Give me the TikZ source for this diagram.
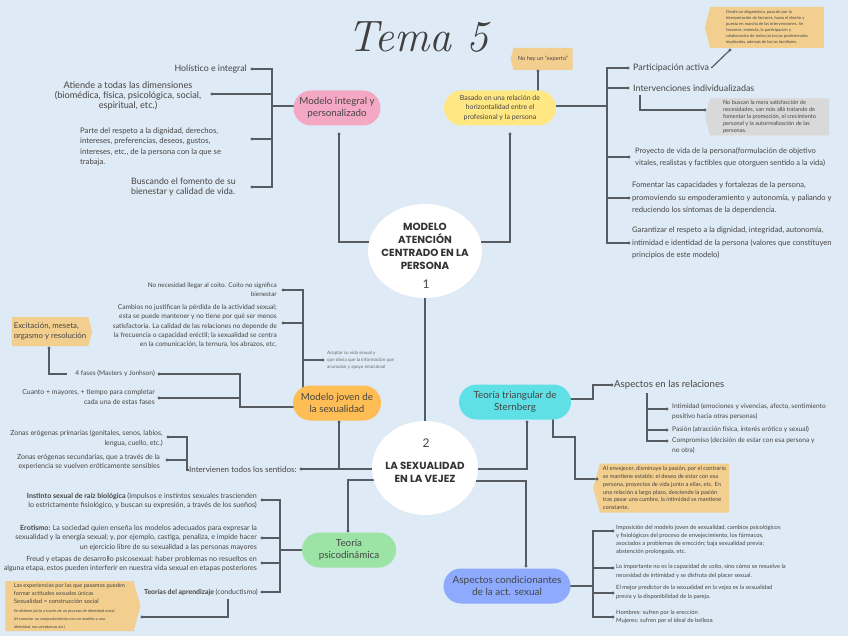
\documentclass[tikz,border=0pt]{standalone}
\usepackage{fontspec}
\setsansfont{Lato}
\newfontfamily\headfont{Poppins}
\usetikzlibrary{shapes.geometric,shapes.misc,shapes.symbols}
\definecolor{bgc}{HTML}{DEEAF5}
\definecolor{linec}{HTML}{575C63}
\definecolor{txtc}{HTML}{454545}
\definecolor{pinkc}{HTML}{F5A8C4}
\definecolor{yellowc}{HTML}{FFE784}
\definecolor{orangec}{HTML}{FFBD55}
\definecolor{cyanc}{HTML}{5FE0E6}
\definecolor{greenc}{HTML}{9BE4A5}
\definecolor{bluec}{HTML}{8DAAFF}
\definecolor{sandc}{HTML}{F3CF8F}
\definecolor{greyc}{HTML}{D9D9D9}
\pgfdeclarelayer{bglayer}
\pgfdeclarelayer{linelayer}
\pgfsetlayers{bglayer,linelayer,main}
\newcommand{\txf}[2]{\sffamily\fontsize{#1}{#2}\selectfont}
\begin{document}
\begin{tikzpicture}[x=1pt,y=-1pt,
  con/.style={draw=linec,line width=1.2pt},
  txt/.style={inner sep=0pt,text=txtc},
  pill/.style={rounded rectangle,inner sep=1pt,text=txtc,font=\txf{9.8}{12},align=center},
  cell/.style={ellipse,fill=white,inner sep=0pt},
  heading/.style={inner sep=0pt,text=black!80,font=\headfont\bfseries\fontsize{10.3}{13}\selectfont,align=center},
  noteL/.style={signal,signal to=west,signal from=nowhere,signal pointer angle=150,inner sep=2pt,text=txtc,align=left},
  noteR/.style={signal,signal to=east,signal from=nowhere,signal pointer angle=150,inner sep=2pt,text=txtc,align=left},
]
\path[use as bounding box] (0,0) rectangle (848,636);
\begin{pgfonlayer}{bglayer}
\fill[bgc] (0,0) rectangle (848,636);
\end{pgfonlayer}

% ---------- title ----------
\node[anchor=base,inner sep=0pt,font=\rmfamily\itshape\fontsize{44}{44}\selectfont,text=black!75] (title) at (418,52) {Tema 5};

% ---------- central ellipses ----------
\node[cell,minimum width=114,minimum height=94] (e1) at (425,251) {};
\node[heading] (e1t) at (425,246) {MODELO\\ATENCIÓN\\CENTRADO EN LA\\PERSONA};
\node[txt,font=\txf{12}{12}] (e1n) at (426,284) {1};
\node[cell,minimum width=106,minimum height=94] (e2) at (425,468) {};
\node[txt,font=\txf{12}{12}] (e2n) at (426,443) {2};
\node[heading] (e2t) at (425,472) {LA SEXUALIDAD\\EN LA VEJEZ};

% ---------- pills ----------
\node[pill,fill=pinkc,minimum width=89,minimum height=35] (mi) at (337,108) {Modelo integral y\\personalizado};
\node[pill,fill=yellowc,minimum width=114,minimum height=35,font=\txf{7}{9.5}] (ba) at (500,108) {Basado en una relación de\\horizontalidad entre el\\profesional y la persona};
\node[pill,fill=orangec,minimum width=90,minimum height=35] (mj) at (337,403) {Modelo joven de\\la sexualidad};
\node[pill,fill=cyanc,minimum width=114,minimum height=35] (st) at (515,402) {Teoría triangular de\\Sternberg};
\node[pill,fill=greenc,minimum width=96,minimum height=35] (tp) at (349,550) {Teoría\\psicodinámica};
\node[pill,fill=bluec,minimum width=129,minimum height=35,font=\txf{10}{12.5}] (ac) at (507,586) {Aspectos condicionantes\\de la act. sexual};

% ---------- top left texts ----------
\node[txt,anchor=east,font=\txf{8.8}{10}] (hol) at (247,69) {Holístico e integral};
\node[txt,align=center,font=\txf{9.2}{10}] (ati) at (128,96) {Atiende a todas las dimensiones\\(biomédica, física, psicológica, social,\\espiritual, etc.)};
\node[txt,anchor=west,align=left,font=\txf{7.7}{10.3}] (par) at (80,147) {Parte del respeto a la dignidad, derechos,\\intereses, preferencias, deseos, gustos,\\intereses, etc., de la persona con la que se\\trabaja.};
\node[txt,anchor=west,align=left,font=\txf{8.8}{10.3}] (bus) at (131,187) {Buscando el fomento de su\\bienestar y calidad de vida.};

% ---------- top right texts ----------
\node[txt,anchor=west,font=\txf{8.9}{10}] (pa) at (633,68) {Participación activa};
\node[txt,anchor=west,font=\txf{8.9}{10}] (ii) at (633,88) {Intervenciones individualizadas};
\node[txt,anchor=west,align=left,font=\txf{7.5}{12.3}] (pv) at (635,157) {Proyecto de vida de la persona(formulación de objetivo\\vitales, realistas y factibles que otorguen sentido a la vida)};
\node[txt,anchor=west,align=left,font=\txf{7.6}{12.6}] (fo) at (632,198) {Fomentar las capacidades y fortalezas de la persona,\\promoviendo su empoderamiento y autonomía, y paliando y\\reduciendo los síntomas de la dependencia.};
\node[txt,anchor=west,align=left,font=\txf{7.6}{12.6}] (ga) at (632,243) {Garantizar el respeto a la dignidad, integridad, autonomía,\\intimidad e identidad de la persona (valores que constituyen\\principios de este modelo)};

% ---------- notes top ----------
\node[noteL,fill=sandc,minimum width=62,minimum height=22,font=\txf{5.7}{7}] (ne) at (543,59) {No hay un ``experto''};
\node[noteL,fill=sandc,minimum width=119,minimum height=41,font=\txf{4.1}{6}] (nt) at (767,27.5) {Desde un diagnóstico, pasa de por la\\interpretación de factores, hasta el diseño y\\puesta en marcha de las intervenciones. Se\\favorece, estimula, la participación y\\colaboración de todos/as los/as profesionales\\implicados, además de los/as familiares.};
\node[noteL,fill=greyc,minimum width=124,minimum height=37,font=\txf{5.6}{6.9}] (ng) at (769.5,117) {No buscan la mera satisfacción de\\necesidades, van más allá tratando de\\fomentar la promoción, el crecimiento\\personal y la autorrealización de las\\personas.};

% ---------- left middle texts ----------
\node[txt,anchor=east,align=right,font=\txf{6.4}{9}] (nec) at (277,290) {No necesidad llegar al coito. Coito no significa\\bienestar};
\node[txt,anchor=east,align=right,font=\txf{6.7}{9.2}] (cam) at (277,326) {Cambios no justifican la pérdida de la actividad sexual;\\esta se puede mantener y no tiene por qué ser menos\\satisfactoria. La calidad de las relaciones no depende de\\la frecuencia o capacidad eréctil; la sexualidad se centra\\en la comunicación, la ternura, los abrazos, etc.};
\node[txt,anchor=west,align=left,font=\txf{4.6}{7},text=txtc!80] (tiny) at (327,360) {Aceptar su vida sexual y\\que obvia que la información que\\acumulan y apoyo emocional};
\node[noteR,fill=sandc,minimum width=80,minimum height=29,font=\txf{7.8}{10.5}] (ex) at (50,331.5) {Excitación, meseta,\\orgasmo y resolución};
\node[txt,anchor=east,font=\txf{6.6}{9}] (fases) at (155,374) {4 fases (Masters y Jonhson)};
\node[txt,anchor=east,align=right,font=\txf{6.9}{9.2}] (cua) at (155,397) {Cuanto + mayores, + tiempo para completar\\cada una de estas fases};
\node[txt,anchor=east,align=right,font=\txf{7}{9.2}] (zp) at (163,438.5) {Zonas erógenas primarias (genitales, senos, labios,\\lengua, cuello, etc.)};
\node[txt,anchor=east,align=right,font=\txf{7}{9.5}] (zs) at (160,462) {Zonas erógenas secundarias, que a través de la\\experiencia se vuelven eróticamente sensibles};
\node[txt,anchor=west,font=\txf{8}{9}] (int) at (189,470) {Intervienen todos los sentidos:};

% ---------- Sternberg ----------
\node[txt,anchor=west,font=\txf{9.6}{11}] (ar) at (614,385) {Aspectos en las relaciones};
\node[txt,anchor=west,align=left,font=\txf{6.6}{9.5}] (intim) at (672,411.5) {Intimidad (emociones y vivencias, afecto, sentimiento\\positivo hacia otras personas)};
\node[txt,anchor=west,font=\txf{6.6}{9.5}] (pas) at (672,430) {Pasión (atracción física, interés erótico y sexual)};
\node[txt,anchor=west,align=left,font=\txf{6.6}{9.5}] (com) at (672,445.5) {Compromiso (decisión de estar con esa persona y\\no otra)};
\node[noteL,fill=sandc,minimum width=136,minimum height=49,font=\txf{5.7}{7.9}] (nv) at (664.5,488) {Al envejecer, disminuye la pasión, por el contrario\\se mantiene estable; el deseo de estar con esa\\persona, proyectos de vida junto a ellas, etc. En\\una relación a largo plazo, desciende la pasión\\tras pasar una cumbre, la intimidad se mantiene\\constante.};

% ---------- Aspectos condicionantes ----------
\node[txt,anchor=west,align=left,font=\txf{5.8}{8}] (imp) at (616,540) {Imposición del modelo joven de sexualidad, cambios psicológicos\\y fisiológicos del proceso de envejecimiento, los fármacos,\\asociados a problemas de erección; baja sexualidad previa;\\abstención prolongada, etc.};
\node[txt,anchor=west,align=left,font=\txf{5.8}{8.5}] (impo) at (616,571.5) {Lo importante no es la capacidad de coito, sino cómo se resuelve la\\necesidad de intimidad y se disfruta del placer sexual.};
\node[txt,anchor=west,align=left,font=\txf{5.8}{8.5}] (mej) at (616,592.5) {El mejor predictor de la sexualidad en la vejez es la sexualidad\\previa y la disponibilidad de la pareja.};
\node[txt,anchor=west,align=left,font=\txf{5.8}{8.5}] (hom) at (616,617) {Hombres: sufren por la erección\\Mujeres: sufren por el ideal de belleza};

% ---------- psicodinamica ----------
\node[txt,anchor=east,align=right,font=\txf{7.1}{8.6}] (ins) at (257,501) {\textbf{Instinto sexual de raíz biológica} (impulsos e instintos sexuales trascienden\\lo estrictamente fisiológico, y buscan su expresión, a través de los sueños)};
\node[txt,anchor=east,align=right,font=\txf{7.1}{9.5}] (ero) at (257,538) {\textbf{Erotismo:} La sociedad quien enseña los modelos adecuados para expresar la\\sexualidad y la energía sexual; y, por ejemplo, castiga, penaliza, e impide hacer\\un ejercicio libre de su sexualidad a las personas mayores};
\node[txt,anchor=east,align=right,font=\txf{7.1}{9}] (fre) at (257,564.5) {Freud y etapas de desarrollo psicosexual: haber problemas no resueltos en\\alguna etapa, estos pueden interferir en nuestra vida sexual en etapas posteriores};
\node[txt,anchor=east,font=\txf{6.9}{9}] (tea) at (258,592) {\textbf{Teorías del aprendizaje} (conductismo)};
\node[noteR,fill=sandc,minimum width=135,minimum height=50,font=\txf{5.6}{8}] (nb) at (69.5,606) {\txf{5.6}{8}Las experiencias por las que pasamos pueden\\\txf{5.6}{8}formar actitudes sexuales únicas\\\txf{6}{8}Sexualidad = construcción social\\[1pt]\txf{3.9}{7}Se obtiene juicio a través de un proceso de identidad social\\\txf{3.9}{7}(el conectar un comportamiento con un modelo a una\\\txf{3.9}{7}identidad, nos aceptamos así.)};

% ---------- dot coordinates ----------
\coordinate (dmi) at (339,134);
\coordinate (dba) at (510,134);
\coordinate (bmi) at (272,106);
\coordinate (dhol) at (252,69);
\coordinate (dati) at (212,94);
\coordinate (dpar) at (252,139);
\coordinate (dbus) at (252,187);
\coordinate (bba) at (607,106);
\coordinate (dpa) at (628,68);
\coordinate (dii) at (628,88);
\coordinate (dpv) at (629,157);
\coordinate (dfo) at (629,198);
\coordinate (dga) at (629,243);
\coordinate (dne) at (538,71);
\coordinate (dnt) at (730,50);
\coordinate (dng) at (705,110);
\coordinate (bmj) at (303,395);
\coordinate (dnec) at (283,290);
\coordinate (dcam) at (283,323);
\coordinate (dtiny) at (323,360);
\coordinate (d4f) at (159,374);
\coordinate (dcu) at (159,398);
\coordinate (bmj2) at (240,407);
\coordinate (dex) at (49,348);
\coordinate (fx) at (67,374);
\coordinate (dmj) at (339,422);
\coordinate (dint) at (301,469);
\coordinate (dz1) at (168,437);
\coordinate (dz2) at (167,460);
\coordinate (bz) at (187,470);
\coordinate (dst) at (527,422);
\coordinate (dar) at (612,385);
\coordinate (bar) at (647,393);
\coordinate (dintim) at (667,409);
\coordinate (dpas) at (667,430);
\coordinate (dcom) at (667,441);
\coordinate (dnv) at (597,479);
\coordinate (dac) at (526,566);
\coordinate (bac) at (593,586);
\coordinate (dimp) at (613,531);
\coordinate (dimpo) at (613,568);
\coordinate (dmej) at (613,593);
\coordinate (dhom) at (613,617);
\coordinate (dtp) at (348,531);
\coordinate (btp) at (280,550);
\coordinate (dins) at (262,500);
\coordinate (dero) at (262,538);
\coordinate (dfre) at (262,563);
\coordinate (dtea) at (262,592);
\coordinate (dnb) at (142,617);

% ---------- connectors ----------
\begin{pgfonlayer}{linelayer}
\draw[con] (e1.center) -- (e2.center);
\draw[con] (e1.center) ++(0,-9) -| (dmi);
\draw[con] (e1.center) ++(0,-9) -| (dba);
\draw[con] (mi.center) ++(0,-2) -- (bmi);
\draw[con] (dhol) -| (bmi) |- (dbus);
\draw[con] (dati) -- (dati -| bmi);
\draw[con] (dpar) -- (dpar -| bmi);
\draw[con] (ba.center) ++(0,-2) -- (bba);
\draw[con] (dpa) -| (bba) |- (dga);
\draw[con] (dii) -- (dii -| bba);
\draw[con] (dpv) -- (dpv -| bba);
\draw[con] (dfo) -- (dfo -| bba);
\draw[con] (ba.center) ++(38,0) -- (dne);
\draw[con] (pa.east) ++(2,0) -- (dnt);
\draw[con] (ii.south west) ++(7,3) |- (dng);
\draw[con] (dnec) -| (bmj);
\draw[con] (dcam) -- (dcam -| bmj);
\draw[con] (dtiny) -- (dtiny -| bmj);
\draw[con] (d4f) -| (bmj2) -- (mj.center |- bmj2);
\draw[con] (dcu) -- (dcu -| bmj2);
\draw[con] (dex) |- (fx);
\draw[con] (dmj) -- (dmj |- dint);
\draw[con] (dint) -- (e2.center |- dint);
\draw[con] (dz1) -| (bz) -- (int.west);
\draw[con] (dz2) -- (dz2 -| bz);
\draw[con] (e2.center) ++(0,1) -| (dst);
\draw[con] (st.center) ++(0,-3) -- ++(78,0) |- (dar);
\draw[con] (bar) |- (dcom);
\draw[con] (dintim) -- (dintim -| bar);
\draw[con] (dpas) -- (dpas -| bar);
\draw[con] (st.south) ++(38,-2) |- (575,437) |- (dnv);
\draw[con] (e2.center) ++(0,13) -| (dac);
\draw[con] (ac.center) -- (bac);
\draw[con] (dimp) -| (bac) |- (dhom);
\draw[con] (dimpo) -- (dimpo -| bac);
\draw[con] (dmej) -- (dmej -| bac);
\draw[con] (e2.center) ++(0,12) -| (dtp);
\draw[con] (tp.center) -- (btp);
\draw[con] (dins) -| (btp) |- (dtea);
\draw[con] (dero) -- (dero -| btp);
\draw[con] (dfre) -- (dfre -| btp);
\draw[con] (tea.south east) ++(-30,3) |- (dnb);
\end{pgfonlayer}

% ---------- dots ----------
\foreach \d in {dmi,dba,dhol,dati,dpar,dbus,dpa,dii,dpv,dfo,dga,dne,dnt,dng,dnec,dcam,dtiny,d4f,dcu,dex,dmj,dint,dz1,dz2,dst,dar,dintim,dpas,dcom,dnv,dac,dimp,dimpo,dmej,dhom,dtp,dins,dero,dfre,dtea,dnb}
  \fill[linec] (\d) circle (1.7pt);
\end{tikzpicture}
\end{document}
